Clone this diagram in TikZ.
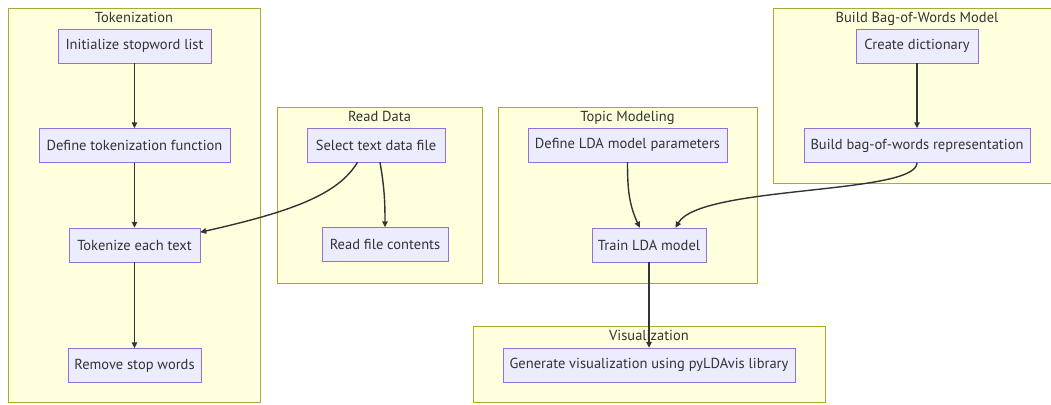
\documentclass[tikz,border=0pt]{standalone}
\usepackage{fontspec}
\setmainfont{PT Sans}
\usepackage{tikz}
\usetikzlibrary{arrows.meta,positioning}
\definecolor{nodefill}{HTML}{ECECFF}
\definecolor{nodeline}{HTML}{9370DB}
\definecolor{grpfill}{HTML}{FFFFDE}
\definecolor{grpline}{HTML}{AAAA33}
\definecolor{edgecol}{HTML}{333333}

\begin{document}
\begin{tikzpicture}[
  x=1pt, y=-1pt,
  font=\fontsize{14.5}{17}\selectfont,
  task/.style={draw=nodeline, fill=nodefill, minimum height=34, inner sep=0pt, text=edgecol},
  grp/.style={draw=grpline, fill=grpfill, inner sep=0pt},
  grptitle/.style={inner sep=0pt, text=edgecol},
  link/.style={draw=edgecol, line width=1.4pt, -{Triangle[length=6pt,width=5.5pt]}}
]
\useasboundingbox[fill=white] (0,0) rectangle (1051,404);

% subgraph frames
\node[grp, minimum width=252, minimum height=394] (tokgrp) at (134,205) {};
\node[grp, minimum width=205, minimum height=176] (readgrp) at (379.5,195) {};
\node[grp, minimum width=259, minimum height=176] (topicgrp) at (627.5,195) {};
\node[grp, minimum width=288, minimum height=175] (bowgrp) at (917,95.5) {};
\node[grp, minimum width=352, minimum height=76] (visgrp) at (649,364) {};

\node[grptitle, below=4pt of tokgrp.north] (toktitle) {Tokenization};
\node[grptitle, below=4pt of readgrp.north] (readtitle) {Read Data};
\node[grptitle, below=4pt of topicgrp.north] (topictitle) {Topic Modeling};
\node[grptitle, below=4pt of bowgrp.north] (bowtitle) {Build Bag-of-Words Model};
\node[grptitle, below=4pt of visgrp.north] (vistitle) {Visualization};

% steps
\node[task, minimum width=153] (init) at (134.5,46) {Initialize stopword list};
\node[task, minimum width=191] (deftok) at (134.5,145.5) {Define tokenization function};
\node[task, minimum width=131] (tokz) at (134.5,245) {Tokenize each text};
\node[task, minimum width=133] (remove) at (134.5,365.5) {Remove stop words};

\node[task, minimum width=138] (sel) at (376,145) {Select text data file};
\node[task, minimum width=126] (readf) at (385,244.5) {Read file contents};

\node[task, minimum width=199] (deflda) at (627.5,145) {Define LDA model parameters};
\node[task, minimum width=114] (train) at (649,245) {Train LDA model};

\node[task, minimum width=122] (dict) at (917,46) {Create dictionary};
\node[task, minimum width=226] (bowrep) at (917,145.5) {Build bag-of-words representation};

\node[task, minimum width=292] (gen) at (649,365) {Generate visualization using pyLDAvis library};

% flow
\draw[link] (init) -- (deftok);
\draw[link] (deftok) -- (tokz);
\draw[link] (tokz) -- (remove);
\draw[link] (sel.223) .. controls (338,195) and (290,212) .. (tokz.11);
\draw[link] (sel.-77) to[out=-80, in=90] (readf.north);
\draw[link] (deflda.south) to[out=-90, in=115] (train.118);
\draw[link] (dict) -- (bowrep);
\draw[link] (bowrep.south) .. controls (917,195) and (700,185) .. (train.33);
\draw[link] (train) -- (gen);
\end{tikzpicture}
\end{document}
